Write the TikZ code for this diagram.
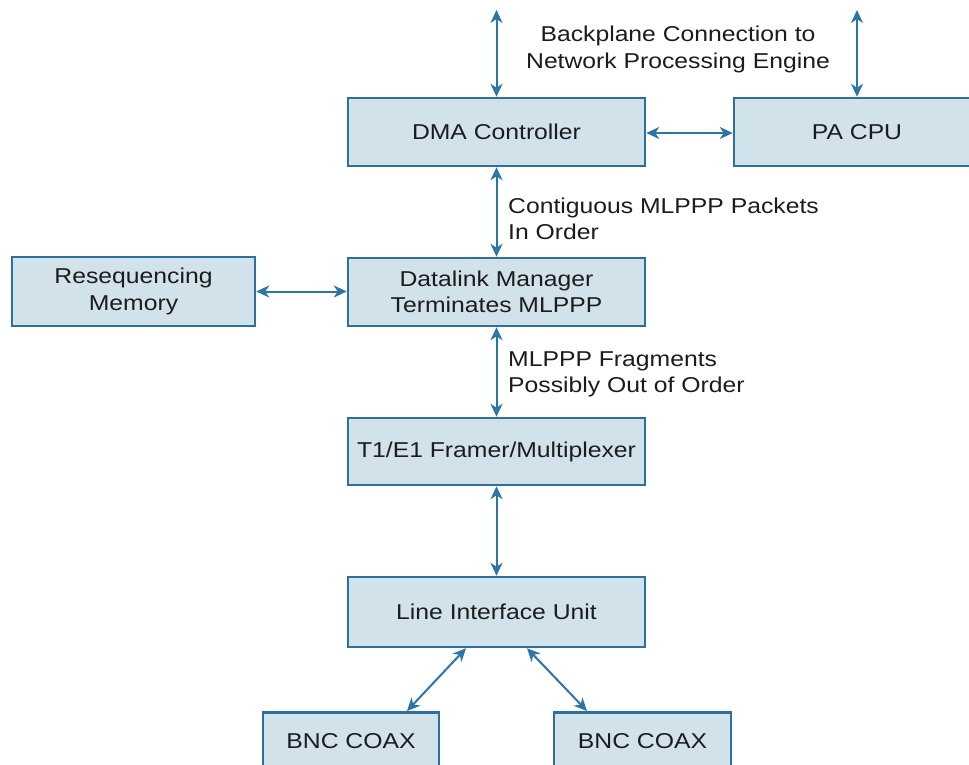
\documentclass[tikz,border=0pt]{standalone}
\usepackage{fontspec}
\setmainfont{Liberation Sans}[FakeStretch=1.15]
\usetikzlibrary{arrows.meta}
\definecolor{boxfill}{HTML}{D1E2EB}
\definecolor{boxline}{HTML}{2C709B}
\definecolor{arrcol}{HTML}{2A76A5}
\definecolor{txt}{HTML}{1C1C1C}
\tikzset{
  blk/.style={draw=boxline, fill=boxfill, line width=2.5pt, inner sep=0pt,
    text=txt, align=center, font=\fontsize{21.5}{26.5}\selectfont},
  lbl/.style={inner sep=0pt, text=txt, font=\fontsize{21.5}{26.5}\selectfont},
  conn/.style={draw=arrcol, line width=2pt,
    {Stealth[length=13pt,width=12pt,inset=4pt]}-{Stealth[length=13pt,width=12pt,inset=4pt]}}
}
\begin{document}
\begin{tikzpicture}[x=1pt,y=-1pt]
\clip (0,0) rectangle (969,765);
\fill[white] (0,0) rectangle (969,765);
% boxes
\node[blk, minimum width=297pt, minimum height=68pt] (dma) at (496.5,132) {DMA Controller};
\node[blk, minimum width=246pt, minimum height=68pt] (cpu) at (857,132) {PA CPU};
\node[blk, minimum width=243pt, minimum height=69pt] (mem) at (133.5,291.5) {Resequencing\\Memory};
\node[blk, minimum width=297pt, minimum height=68pt] (dlm) at (496.5,292) {Datalink Manager\\Terminates MLPPP};
\node[blk, minimum width=297pt, minimum height=67pt] (fr) at (496.5,451.5) {T1/E1 Framer/Multiplexer};
\node[blk, minimum width=297pt, minimum height=70pt] (liu) at (496.5,612) {Line Interface Unit};
\node[blk, minimum width=176pt, minimum height=58pt, anchor=north] (bnc1) at (351,711) {BNC COAX};
\node[blk, minimum width=177pt, minimum height=58pt, anchor=north] (bnc2) at (642.5,711) {BNC COAX};
% free ends
\coordinate (topA) at (496.5,10);
\coordinate (topB) at (857,10);
% labels
\node[lbl, align=center] (bp) at (678,49.5) {Backplane Connection to\\Network Processing Engine};
\node[lbl, align=left, anchor=west] (cont) at (508,219) {Contiguous MLPPP Packets\\In Order};
\node[lbl, align=left, anchor=west] (frag) at (508,374.5) {MLPPP Fragments\\Possibly Out of Order};
% connectors
\draw[conn] (topA) -- (dma.north);
\draw[conn] (topB) -- (cpu.north);
\draw[conn] (dma.east |- 0,133) -- (cpu.west |- 0,133);
\draw[conn] (dma.south) -- (dlm.north);
\draw[conn] (mem.east) -- (dlm.west |- mem.east);
\draw[conn] (dlm.south) -- (fr.north);
\draw[conn] (fr.south) -- (liu.north);
\draw[conn] ([xshift=-30.5pt]liu.south) -- ([xshift=56pt]bnc1.north);
\draw[conn] ([xshift=30.5pt]liu.south) -- ([xshift=-55.5pt]bnc2.north);
\end{tikzpicture}
\end{document}
